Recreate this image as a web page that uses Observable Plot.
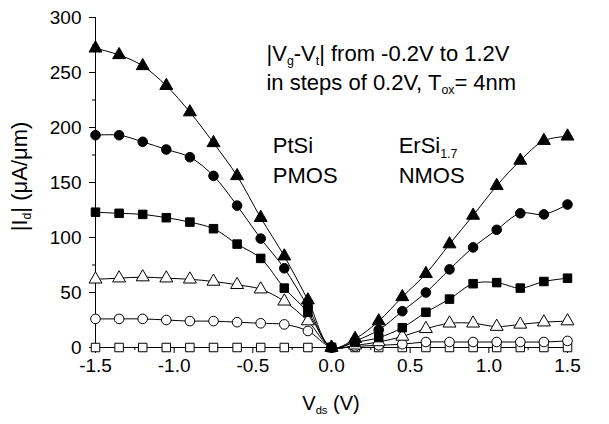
<!DOCTYPE html>
<html><head><meta charset="utf-8">
<script src="https://cdn.jsdelivr.net/npm/d3@7"></script>
<script src="https://cdn.jsdelivr.net/npm/@observablehq/plot@0.6"></script>
<style>
body{margin:0;background:#fff;}
#chart svg{font-family:"Liberation Sans",Arial,sans-serif;}
</style>
</head><body><div id="chart"></div>
<script>
// Drain voltage (V)
const vds = [-1.5, -1.35, -1.2, -1.05, -0.9, -0.75, -0.6, -0.45, -0.3, -0.15, 0,
             0.15, 0.3, 0.45, 0.6, 0.75, 0.9, 1.05, 1.2, 1.35, 1.5];
// |Id| (uA/um) per curve, filled triangle = highest gate drive
const curveTriFilled  = [272, 266, 256, 238, 214, 186, 156, 118, 83, 43, 0,
                         8, 24, 46, 67, 94, 120, 147, 170, 188, 192];
const curveCircFilled = [193, 193, 187, 180, 173, 156, 129, 99, 72, 37, 0,
                         6, 16, 33, 50, 71, 91, 107, 122, 121, 130];
const curveSqFilled   = [123, 122, 121, 118, 114, 108, 94, 81, 54, 32, 0,
                         4.6, 9, 18, 32, 44, 58, 59, 54, 60, 63];
const curveTriOpen    = [62, 63, 64, 63, 62, 60, 57, 53, 42, 24, 0,
                         2, 5, 10, 17, 22, 22, 19, 21, 23, 24];
const curveCircOpen   = [26, 26, 26, 25, 24, 24, 23, 22, 21, 15, 0,
                         1, 2, 3, 5, 5, 5, 5, 5, 5, 6];
const curveSqOpen     = [0, 0, 0, 0, 0, 0, 0, 0, 0, 0, 0,
                         0, 0, 0, 0, 0, 0, 0, 0, 0, 0];

const xTicks = [-1.5, -1.0, -0.5, 0.0, 0.5, 1.0, 1.5];
const xMinorTicks = [-1.25, -0.75, -0.25, 0.25, 0.75, 1.25];
const yTicks = [0, 50, 100, 150, 200, 250, 300];
const yMinorTicks = [25, 75, 125, 175, 225, 275];

const curves = [
  {values: curveSqOpen,     symbol: "square",   fill: "white"},
  {values: curveCircOpen,   symbol: "circle",   fill: "white"},
  {values: curveTriOpen,    symbol: "triangle", fill: "white"},
  {values: curveSqFilled,   symbol: "square",   fill: "black"},
  {values: curveCircFilled, symbol: "circle",   fill: "black"},
  {values: curveTriFilled,  symbol: "triangle", fill: "black"}
];
const tables = curves.map(c => vds.map((x, i) => ({x, y: c.values[i]})));

const FS = 19;
const marks = [
  Plot.ruleY([0], {stroke: "black", strokeWidth: 1}),
  Plot.ruleX([-1.5], {stroke: "black", strokeWidth: 1}),
  Plot.axisX(xTicks, {tickSize: 6, tickPadding: 5, tickFormat: d => d.toFixed(1), label: null, fontSize: FS, strokeWidth: 1}),
  Plot.axisX(xMinorTicks, {tickSize: 3, tickFormat: () => "", label: null, strokeWidth: 1}),
  Plot.axisY(yTicks, {tickSize: 6, tickPadding: 8, tickFormat: d => String(d), label: null, fontSize: FS, strokeWidth: 1}),
  Plot.axisY(yMinorTicks, {tickSize: 3, tickFormat: () => "", label: null, strokeWidth: 1})
];
tables.forEach(t => marks.push(Plot.line(t, {x: "x", y: "y", curve: "catmull-rom", stroke: "black", strokeWidth: 1})));
tables.forEach((t, k) => marks.push(Plot.dot(t, {x: "x", y: "y", symbol: curves[k].symbol, fill: curves[k].fill, stroke: "black", strokeWidth: 1, r: 4.8})));

const plot = Plot.plot({
  width: 609, height: 424,
  marginLeft: 95, marginRight: 42, marginTop: 17, marginBottom: 77,
  x: {domain: [-1.5, 1.5]},
  y: {domain: [0, 300]},
  style: {fontFamily: "'Liberation Sans', Arial, sans-serif", fontSize: FS + "px", color: "black", background: "white", overflow: "visible"},
  marks
});
document.getElementById("chart").appendChild(plot);

const sx = plot.scale("x"), sy = plot.scale("y");
const svg = d3.select(plot);

function rich(x, y, parts, size, opts = {}) {
  const t = svg.append("text").attr("x", x).attr("y", y)
    .attr("font-size", size).attr("fill", "black")
    .attr("text-anchor", opts.anchor || "start")
    .attr("font-family", "'Liberation Sans', Arial, sans-serif");
  if (opts.rotate) t.attr("transform", `rotate(${opts.rotate},${x},${y})`);
  let shifted = false;
  const shift = size * 0.2;
  parts.forEach(p => {
    const sub = Array.isArray(p);
    const s = t.append("tspan").text(sub ? p[0] : p);
    if (sub && !shifted) { s.attr("dy", shift).attr("font-size", size * 0.56); shifted = true; }
    else if (!sub && shifted) { s.attr("dy", -shift); shifted = false; }
  });
  return t;
}

const AF = 22;
// annotations placed in data coordinates
const noteX = -0.41, noteY1 = 260, noteY2 = 234;
rich(sx.apply(noteX), sy.apply(noteY1), ["|V", ["g"], "-V", ["t"], "| from -0.2V to 1.2V"], AF);
rich(sx.apply(noteX), sy.apply(noteY2), ["in steps of 0.2V, T", ["ox"], "= 4nm"], AF);
rich(sx.apply(-0.37), sy.apply(176), ["PtSi"], AF);
rich(sx.apply(-0.37), sy.apply(149), ["PMOS"], AF);
rich(sx.apply(0.43), sy.apply(176), ["ErSi", ["1.7"]], AF);
rich(sx.apply(0.43), sy.apply(149), ["NMOS"], AF);
// axis titles
rich(sx.apply(0), 410, ["V", ["ds"], " (V)"], 20, {anchor: "middle"});
rich(27, sy.apply(155), ["|I", ["d"], "| (\u03BCA/\u03BCm)"], 22, {anchor: "middle", rotate: -90});
</script>
</body></html>
